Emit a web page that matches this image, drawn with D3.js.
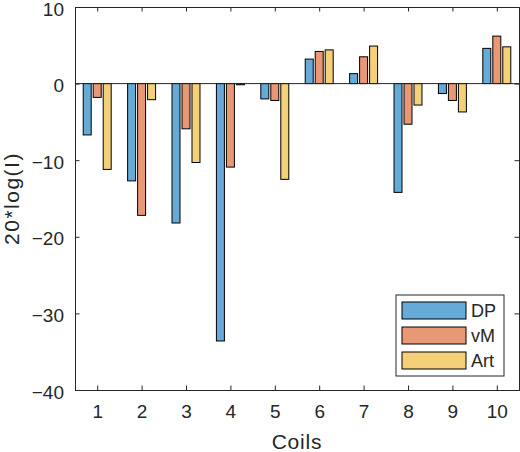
<!DOCTYPE html>
<html lang="en">
<head>
    <meta charset="UTF-8" />
    <title>Coils bar chart</title>
    <script src="https://d3js.org/d3.v7.min.js"></script>
    <style>
        body { margin: 0; background: #fff; }
        text { font-family: "Liberation Sans", Arial, sans-serif; fill: #262626; }
    </style>
</head>
<body>
    <div id="chart"></div>
    <script>
// Values
var coils = [1, 2, 3, 4, 5, 6, 7, 8, 9, 10];
var seriesNames = ["DP", "vM", "Art"];
var dpValues = [-6.7, -12.7, -18.2, -33.6, -2.0, 3.2, 1.3, -14.2, -1.3, 4.6];
var vmValues = [-1.8, -17.2, -5.9, -10.9, -2.2, 4.2, 3.5, -5.3, -2.2, 6.2];
var artValues = [-11.2, -2.1, -10.3, -0.15, -12.5, 4.4, 4.9, -2.8, -3.7, 4.8];
var yTicks = [-40, -30, -20, -10, 0, 10];
var colors = ["#66aad7", "#e89875", "#f4d079"];

var width = 520, height = 452;
var margin = { top: 7, right: 1, bottom: 62, left: 75 };

var svg = d3.select("#chart").append("svg")
    .attr("width", width)
    .attr("height", height);

var x = d3.scaleLinear().domain([0.5, 10.5]).range([margin.left, width - margin.right]);
var y = d3.scaleLinear().domain([-40, 10]).range([height - margin.bottom, margin.top]);

// offsets of the three bars inside a group
var inner = d3.scaleBand().domain(seriesNames).range([-0.315, 0.315]).paddingInner(0.2);

var allSeries = [dpValues, vmValues, artValues];

allSeries.forEach(function(values, s) {
    svg.append("g")
        .selectAll("rect")
        .data(values)
        .enter()
        .append("rect")
        .attr("x", function(d, i) { return x(coils[i] + inner(seriesNames[s])); })
        .attr("width", x(inner.bandwidth()) - x(0))
        .attr("y", function(d) { return y(Math.max(0, d)); })
        .attr("height", function(d) { return Math.abs(y(d) - y(0)); })
        .attr("fill", colors[s])
        .attr("stroke", "#000")
        .attr("stroke-width", 1);
});

// baseline at 0
svg.append("line")
    .attr("x1", x.range()[0]).attr("x2", x.range()[1])
    .attr("y1", y(0)).attr("y2", y(0))
    .attr("stroke", "#262626").attr("stroke-width", 1);

// axes, ticks pointing inward like MATLAB
var tickLen = 4.5;
var xAxis = d3.axisBottom(x).tickValues(coils).tickSize(-tickLen).tickPadding(15).tickFormat(d3.format("d"));
var yAxis = d3.axisLeft(y).tickValues(yTicks).tickSize(-tickLen).tickPadding(11);

svg.append("g")
    .attr("transform", "translate(0," + y.range()[0] + ")")
    .call(xAxis);
var gy = svg.append("g")
    .attr("transform", "translate(" + x.range()[0] + ",0)")
    .call(yAxis);

svg.append("g")
    .attr("transform", "translate(0," + y.range()[1] + ")")
    .call(d3.axisTop(x).tickValues(coils).tickSize(-tickLen).tickFormat(""));
svg.append("g")
    .attr("transform", "translate(" + x.range()[1] + ",0)")
    .call(d3.axisRight(y).tickValues(yTicks).tickSize(-tickLen).tickFormat(""));

svg.selectAll(".domain, .tick line").attr("stroke", "#262626");
svg.selectAll(".tick text")
    .style("font-size", "19px")
    .style("font-family", "'Liberation Sans', Arial, sans-serif")
    .attr("fill", "#262626");
gy.selectAll(".tick text").attr("dy", "0.43em");

// axis titles
svg.append("text")
    .attr("x", (x.range()[0] + x.range()[1]) / 2)
    .attr("y", 449)
    .attr("text-anchor", "middle")
    .style("font-size", "21px")
    .style("letter-spacing", "0.8px")
    .text("Coils");

svg.append("text")
    .attr("transform", "translate(19," + (y.range()[0] + y.range()[1]) / 2 + ") rotate(-90)")
    .attr("text-anchor", "middle")
    .style("font-size", "21px")
    .style("letter-spacing", "1.5px")
    .text("20*log(I)");

// legend
var legend = svg.append("g").attr("transform", "translate(396,295)");
legend.append("rect")
    .attr("width", 108).attr("height", 81)
    .attr("fill", "#fff").attr("stroke", "#262626").attr("stroke-width", 1);

seriesNames.forEach(function(name, i) {
    var row = legend.append("g").attr("transform", "translate(0," + (7 + i * 25) + ")");
    row.append("rect")
        .attr("x", 6).attr("width", 64).attr("height", 17)
        .attr("fill", colors[i]).attr("stroke", "#000").attr("stroke-width", 1);
    row.append("text")
        .attr("x", 75).attr("y", 15)
        .style("font-size", "18px")
        .text(name);
});
    </script>
</body>
</html>
